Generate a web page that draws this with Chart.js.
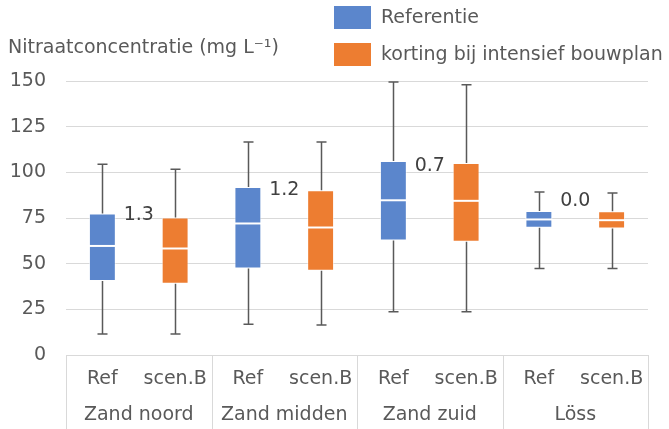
<!DOCTYPE html>
<html lang="nl">
<head>
  <meta charset="UTF-8" />
  <title>Nitraatconcentratie</title>
  <script src="https://cdn.jsdelivr.net/npm/chart.js"></script>
  <style>
    html, body { margin: 0; padding: 0; background: #fff; }
    #wrap { width: 669px; height: 429px; position: relative; }
  </style>
</head>
<body>
  <div id="wrap"><canvas id="boxChart"></canvas></div>

  <script>
    // categories
    const groups = ["Zand noord", "Zand midden", "Zand zuid", "Löss"];
    const subLabels = ["Ref", "scen.B"];
    const seriesNames = ["Referentie", "korting bij intensief bouwplan"];

    // Referentie box values
    const refMin = [11.5, 16.8, 23.7, 47.4];
    const refQ1  = [40.5, 47.4, 62.7, 69.6];
    const refMed = [59.7, 72.0, 84.7, 74.2];
    const refQ3  = [77.5, 92.0, 106.2, 78.9];
    const refMax = [104.4, 116.6, 149.4, 89.3];

    // scen.B box values
    const scenMin = [11.5, 16.4, 23.7, 47.4];
    const scenQ1  = [39.0, 46.1, 62.0, 69.3];
    const scenMed = [58.3, 69.8, 84.4, 73.8];
    const scenQ3  = [75.3, 90.2, 105.1, 78.7];
    const scenMax = [101.7, 116.6, 148.0, 88.7];

    // difference labels between the boxes
    const diffLabels = ["1.3", "1.2", "0.7", "0.0"];
    const diffY = [76.5, 90.2, 103.3, 84.4];

    const yTicks = [0, 25, 50, 75, 100, 125, 150];

    const FONT = "'DejaVu Sans', Verdana, sans-serif";
    const FS = 19;
    const TXT = "#595959";
    const GRID = "#d9d9d9";
    const BLUE = "#5b86cc";
    const ORANGE = "#ed7d31";

    // one slot per sub-category, the other series is null there
    const labels = [];
    const refData = [], scenData = [];
    const refStats = [], scenStats = [];
    groups.forEach((g, i) => {
      labels.push(subLabels[0], subLabels[1]);
      refData.push([refQ1[i], refQ3[i]], null);
      scenData.push(null, [scenQ1[i], scenQ3[i]]);
      refStats.push({ min: refMin[i], med: refMed[i], max: refMax[i] }, null);
      scenStats.push(null, { min: scenMin[i], med: scenMed[i], max: scenMax[i] });
    });
    const stats = [refStats, scenStats];

    // whiskers, median line, group axis, legend, title, diff labels
    const boxExtras = {
      id: "boxExtras",
      afterDatasetsDraw(chart) {
        const ctx = chart.ctx;
        const y = chart.scales.y;
        ctx.save();
        chart.data.datasets.forEach((ds, di) => {
          const meta = chart.getDatasetMeta(di);
          meta.data.forEach((bar, i) => {
            const s = stats[di][i];
            if (!s) return;
            const top = Math.min(bar.y, bar.base);
            const bot = Math.max(bar.y, bar.base);
            const x = Math.round(bar.x) + 0.5;
            ctx.strokeStyle = "#595959";
            ctx.lineWidth = 1.5;
            ctx.beginPath();
            ctx.moveTo(x, top); ctx.lineTo(x, y.getPixelForValue(s.max));
            ctx.moveTo(x, bot); ctx.lineTo(x, y.getPixelForValue(s.min));
            ctx.moveTo(x - 5, y.getPixelForValue(s.max)); ctx.lineTo(x + 5, y.getPixelForValue(s.max));
            ctx.moveTo(x - 5, y.getPixelForValue(s.min)); ctx.lineTo(x + 5, y.getPixelForValue(s.min));
            ctx.stroke();
            // median
            ctx.strokeStyle = "#ffffff";
            ctx.lineWidth = 2;
            const my = y.getPixelForValue(s.med);
            ctx.beginPath();
            ctx.moveTo(bar.x - bar.width / 2, my);
            ctx.lineTo(bar.x + bar.width / 2, my);
            ctx.stroke();
          });
        });
        ctx.restore();
      },
      afterDraw(chart) {
        const ctx = chart.ctx;
        const { left, right, bottom } = chart.chartArea;
        const x = chart.scales.x;
        const y = chart.scales.y;
        const groupW = (right - left) / groups.length;
        ctx.save();

        // group separators and labels
        ctx.strokeStyle = GRID;
        ctx.lineWidth = 1;
        ctx.beginPath();
        for (let i = 0; i <= groups.length; i++) {
          const gx = Math.round(left + i * groupW) + 0.5;
          ctx.moveTo(gx, bottom);
          ctx.lineTo(gx, chart.height);
        }
        ctx.stroke();
        ctx.fillStyle = TXT;
        ctx.font = FS + "px " + FONT;
        ctx.textAlign = "center";
        ctx.textBaseline = "middle";
        groups.forEach((g, i) => {
          ctx.fillText(g, left + (i + 0.5) * groupW, 415);
        });

        // difference labels
        ctx.fillStyle = "#404040";
        diffLabels.forEach((t, i) => {
          const cx = (x.getPixelForValue(2 * i) + x.getPixelForValue(2 * i + 1)) / 2;
          ctx.fillText(t, cx, y.getPixelForValue(diffY[i]));
        });

        // axis title
        ctx.fillStyle = TXT;
        ctx.textAlign = "left";
        ctx.fillText("Nitraatconcentratie (mg L⁻¹)", 8, 48);

        // legend
        chart.data.datasets.forEach((ds, i) => {
          const ly = 6 + i * 37;
          ctx.fillStyle = ds.backgroundColor;
          ctx.fillRect(334, ly, 37, 23);
          ctx.fillStyle = TXT;
          ctx.fillText(ds.label, 381, ly + 12);
        });
        ctx.restore();
      }
    };

    new Chart(document.getElementById("boxChart"), {
      type: "bar",
      data: {
        labels,
        datasets: [
          {
            label: seriesNames[0],
            data: refData,
            backgroundColor: BLUE,
            borderColor: "rgba(255,255,255,0.55)",
            borderWidth: 1,
            borderSkipped: false,
            skipNull: true,
            categoryPercentage: 1,
            barPercentage: 0.37
          },
          {
            label: seriesNames[1],
            data: scenData,
            backgroundColor: ORANGE,
            borderColor: "rgba(255,255,255,0.55)",
            borderWidth: 1,
            borderSkipped: false,
            skipNull: true,
            categoryPercentage: 1,
            barPercentage: 0.37
          }
        ]
      },
      options: {
        responsive: true,
        maintainAspectRatio: false,
        animation: false,
        layout: { padding: { top: 81, right: 21, left: 0, bottom: 0 } },
        plugins: {
          legend: { display: false },
          tooltip: { enabled: false }
        },
        scales: {
          x: {
            grid: { display: false, drawTicks: false },
            border: { display: true, color: GRID, width: 1 },
            ticks: { color: TXT, font: { family: FONT, size: FS }, padding: 13, maxRotation: 0, autoSkip: false },
            afterFit(scale) { scale.height = 74; }
          },
          y: {
            min: 0,
            max: 150,
            afterBuildTicks(scale) { scale.ticks = yTicks.map(v => ({ value: v })); },
            grid: { color: GRID, lineWidth: 1, drawTicks: false },
            border: { display: false },
            ticks: { color: TXT, font: { family: FONT, size: FS }, padding: 20 },
            afterFit(scale) { scale.width = 66; }
          }
        }
      },
      plugins: [boxExtras]
    });
  </script>
</body>
</html>
